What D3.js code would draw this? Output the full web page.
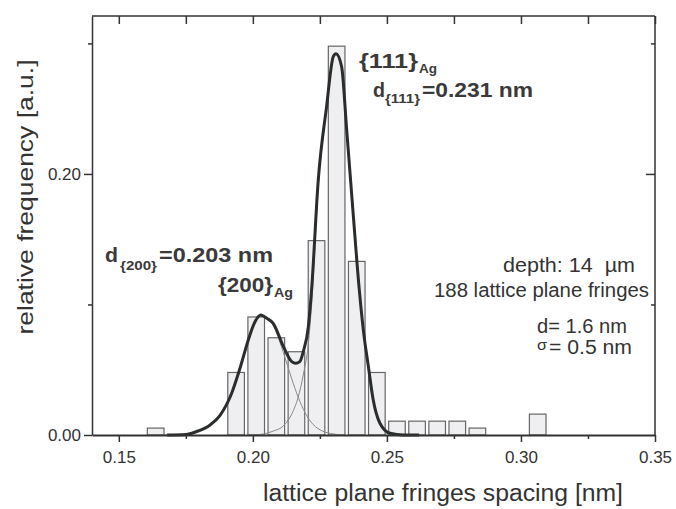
<html>
<head>
<script src="https://d3js.org/d3.v7.min.js"></script>
<style>
  body { margin: 0; background: #fff; }
  text { font-family: "Liberation Sans", Arial, sans-serif; fill: #333; }
  .axis path, .axis line { stroke: #333; }
  .bar { fill: #efeff2; stroke: #666; stroke-width: 1.2px; }
  .fit { fill: none; stroke: #2a2d2d; stroke-width: 3px; }
  .comp { fill: none; stroke: #888; stroke-width: 1px; }
  .lbl { font-weight: bold; fill: #3a3a3a; }
</style>
</head>
<body>
<svg id="chart" width="676" height="509"></svg>
<script>
// histogram bins (centres, nm) and relative frequencies
const binCenters = [0.16375, 0.19375, 0.20125, 0.20875, 0.21625, 0.22375, 0.23125, 0.23875,
                    0.24625, 0.25375, 0.26125, 0.26875, 0.27625, 0.28375, 0.30625];
const relFreq = [0.0053, 0.0479, 0.0904, 0.0745, 0.0638, 0.1489, 0.2979, 0.1330,
                 0.0479, 0.0106, 0.0106, 0.0106, 0.0106, 0.0053, 0.0160];
const binHalf = 0.0031;

// fitted curve (sum)
const fitX = [0.168, 0.1751, 0.1788, 0.1838, 0.1877, 0.1921, 0.1952, 0.1983, 0.2008, 0.2030, 0.2052,
              0.2076, 0.2114, 0.2145, 0.2160, 0.2175, 0.2188, 0.2207, 0.2219, 0.2244, 0.2275, 0.2300,
              0.2310, 0.2331, 0.2350, 0.2375, 0.2397, 0.2412, 0.2431, 0.2449, 0.2474, 0.2512, 0.2561, 0.262];
const fitY = [0, 0.0004, 0.0025, 0.0073, 0.0149, 0.0320, 0.0511, 0.0728, 0.0868, 0.0920, 0.0894,
              0.0856, 0.0677, 0.0562, 0.0550, 0.0562, 0.0638, 0.0830, 0.1111, 0.1954, 0.2516, 0.2899,
              0.2920, 0.2822, 0.2337, 0.1673, 0.1111, 0.0805, 0.0523, 0.0268, 0.0090, 0.0013, 0, 0];

// the two components
const comp200X = [0.165, 0.1751, 0.1788, 0.1838, 0.1877, 0.1921, 0.1952, 0.1983, 0.2008, 0.2035,
                  0.2060, 0.2085, 0.2114, 0.2145, 0.2169, 0.2195, 0.2225, 0.2260, 0.2300, 0.2340];
const comp200Y = [0, 0.0004, 0.0025, 0.0073, 0.0149, 0.0320, 0.0511, 0.0728, 0.0868, 0.0915,
                  0.0888, 0.0800, 0.0630, 0.0430, 0.0290, 0.0170, 0.0080, 0.0030, 0.0008, 0];
const comp111X = [0.200, 0.2040, 0.2076, 0.2114, 0.2145, 0.2169, 0.2188, 0.2207, 0.2219, 0.2244,
                  0.2275, 0.2300, 0.2310, 0.2331, 0.2350, 0.2375, 0.2397, 0.2412, 0.2431, 0.2449,
                  0.2474, 0.2512, 0.2561];
const comp111Y = [0, 0.0008, 0.0030, 0.0070, 0.0160, 0.0290, 0.0460, 0.0700, 0.0990, 0.1900,
                  0.2500, 0.2895, 0.2920, 0.2822, 0.2337, 0.1673, 0.1111, 0.0805, 0.0523, 0.0268,
                  0.0090, 0.0013, 0];

const xMajor = [0.15, 0.20, 0.25, 0.30, 0.35];
const xMinor = [0.175, 0.225, 0.275, 0.325];
const yMajor = [0.00, 0.20];
const yMinor = [0.10, 0.30];

const svg = d3.select("#chart");
const pLeft = 92, pRight = 655, pTop = 16, pBottom = 435;

const x = d3.scaleLinear().domain([0.14, 0.35]).range([pLeft, pRight]);
const y = d3.scaleLinear().domain([0, 0.321]).range([pBottom, pTop]);

// bars
svg.selectAll(".bar").data(binCenters).enter()
  .append("rect")
  .attr("class", "bar")
  .attr("x", d => x(d - binHalf))
  .attr("width", d => x(d + binHalf) - x(d - binHalf))
  .attr("y", (d, i) => y(relFreq[i]))
  .attr("height", (d, i) => y(0) - y(relFreq[i]));

const line = d3.line().x(d => x(d[0])).y(d => y(d[1])).curve(d3.curveMonotoneX);

svg.append("path").attr("class", "comp").attr("d", line(d3.zip(comp200X, comp200Y)));
svg.append("path").attr("class", "comp").attr("d", line(d3.zip(comp111X, comp111Y)));
svg.append("path").attr("class", "fit").attr("d", line(d3.zip(fitX, fitY)));

// frame lines
svg.append("line").attr("x1", pLeft).attr("x2", pRight).attr("y1", pTop).attr("y2", pTop)
  .attr("stroke", "#333").attr("stroke-width", 1.5);
svg.append("line").attr("x1", pRight).attr("x2", pRight).attr("y1", pTop).attr("y2", pBottom)
  .attr("stroke", "#333").attr("stroke-width", 1.5);

// bottom axis
const bx = svg.append("g").attr("class", "axis").attr("transform", "translate(0," + pBottom + ")")
  .call(d3.axisBottom(x).tickValues(xMajor).tickSize(7).tickSizeOuter(0).tickFormat(d3.format(".2f")));
bx.select(".domain").attr("stroke-width", 2.2);
bx.selectAll("line").attr("stroke-width", 1.5);
bx.selectAll("text").attr("font-size", 17).attr("dy", "1.05em");
svg.append("g").attr("class", "axis").attr("transform", "translate(0," + pBottom + ")")
  .call(d3.axisBottom(x).tickValues(xMinor).tickSize(4).tickFormat(""))
  .call(g => g.select(".domain").remove())
  .selectAll("line").attr("stroke-width", 1.5);

// top ticks (inward)
svg.append("g").attr("class", "axis").attr("transform", "translate(0," + pTop + ")")
  .call(d3.axisBottom(x).tickValues(xMajor.concat(xMinor)).tickSize(8).tickFormat(""))
  .call(g => g.select(".domain").remove())
  .selectAll("line").attr("stroke-width", 1.5);

// left axis
const ly = svg.append("g").attr("class", "axis").attr("transform", "translate(" + pLeft + ",0)")
  .call(d3.axisLeft(y).tickValues(yMajor).tickSize(8).tickSizeOuter(0).tickFormat(d3.format(".2f")));
ly.select(".domain").attr("stroke-width", 1.5);
ly.selectAll("line").attr("stroke-width", 1.5);
ly.selectAll("text").attr("font-size", 17).attr("x", -11);
svg.append("g").attr("class", "axis").attr("transform", "translate(" + pLeft + ",0)")
  .call(d3.axisLeft(y).tickValues(yMinor).tickSize(4).tickFormat(""))
  .call(g => g.select(".domain").remove())
  .selectAll("line").attr("stroke-width", 1.5);

// right ticks (inward)
svg.append("g").attr("class", "axis").attr("transform", "translate(" + pRight + ",0)")
  .call(d3.axisLeft(y).tickValues([0.20]).tickSize(9).tickFormat(""))
  .call(g => g.select(".domain").remove())
  .selectAll("line").attr("stroke-width", 1.5);
svg.append("g").attr("class", "axis").attr("transform", "translate(" + pRight + ",0)")
  .call(d3.axisLeft(y).tickValues(yMinor).tickSize(4).tickFormat(""))
  .call(g => g.select(".domain").remove())
  .selectAll("line").attr("stroke-width", 1.5);

// axis titles
svg.append("text").attr("x", 443).attr("y", 501).attr("text-anchor", "middle")
  .attr("font-size", 23).attr("textLength", 360).attr("lengthAdjust", "spacingAndGlyphs")
  .text("lattice plane fringes spacing [nm]");
svg.append("text").attr("transform", "translate(33,197) rotate(-90)").attr("text-anchor", "middle")
  .attr("font-size", 22).attr("textLength", 275).attr("lengthAdjust", "spacingAndGlyphs")
  .text("relative frequency [a.u.]");

// annotations
function txt(xp, yp, s, size, len, cls) {
  const t = svg.append("text").attr("x", xp).attr("y", yp).attr("font-size", size)
    .attr("xml:space", "preserve").text(s);
  if (len) t.attr("textLength", len).attr("lengthAdjust", "spacingAndGlyphs");
  if (cls) t.attr("class", cls);
  return t;
}
txt(359, 68, "{111}", 21, 59, "lbl");
txt(419, 73, "Ag", 12, 18, "lbl");
txt(373, 97, "d", 21, 12, "lbl");
txt(385, 103, "{111}", 12, 35, "lbl");
txt(422, 97, "=0.231 nm", 21, 111, "lbl");

txt(105, 262, "d", 21, 13, "lbl");
txt(120, 270, "{200}", 12, 37, "lbl");
txt(159, 262, "=0.203 nm", 21, 114, "lbl");
txt(218, 292, "{200}", 21, 55, "lbl");
txt(274, 297, "Ag", 12, 19, "lbl");

txt(503, 272, "depth: 14  \u00b5m", 20, 132);
txt(434, 297, "188 lattice plane fringes", 20, 215);
txt(537, 333, "d= 1.6 nm", 20, 90);
txt(537, 350, "\u03c3", 14, 10);
txt(549, 354, "= 0.5 nm", 20, 83);
</script>
</body>
</html>
